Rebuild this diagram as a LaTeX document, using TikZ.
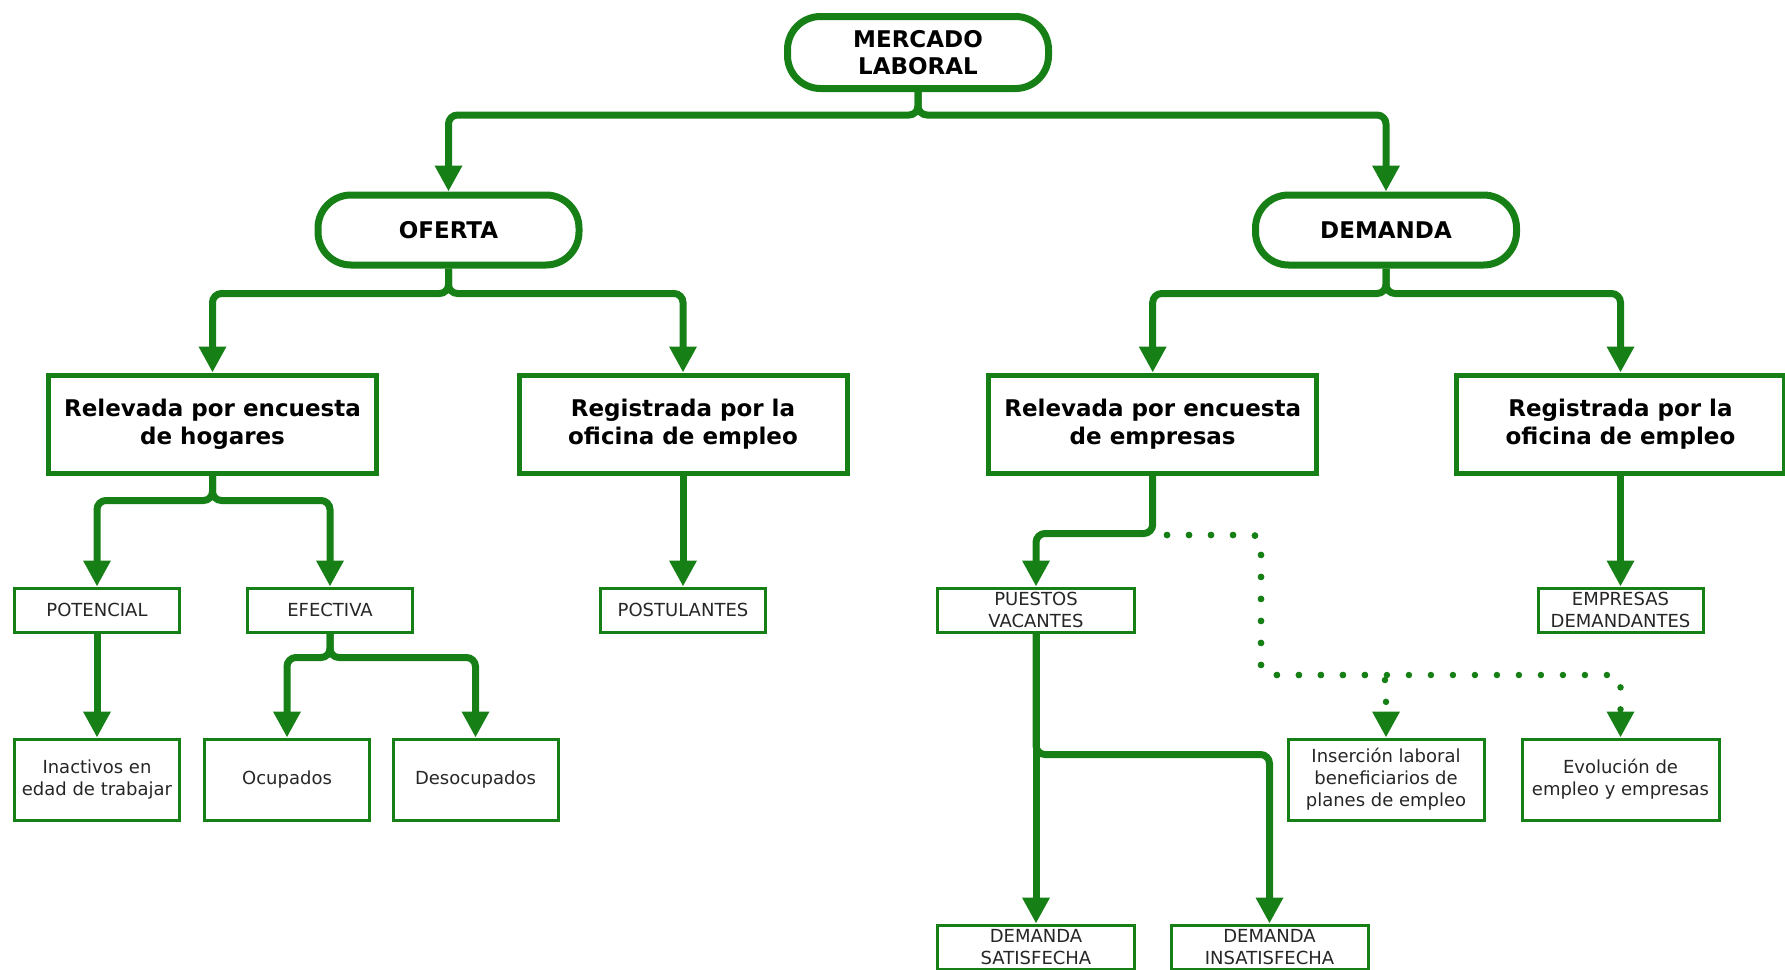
\documentclass[tikz,border=0pt]{standalone}
\usepackage{fontspec}
\setmainfont{DejaVu Sans}
\usetikzlibrary{arrows.meta}

\definecolor{verde}{RGB}{22,128,22}

\begin{document}
\begin{tikzpicture}[x=1pt, y=-1pt,
    pill/.style={draw=verde, line width=7pt, rounded corners=33pt, minimum width=261pt, minimum height=70pt,
      inner sep=0pt, align=center, font=\fontsize{23}{27.5}\selectfont\bfseries},
    bigbox/.style={draw=verde, line width=5pt, minimum width=328pt, minimum height=98pt,
      inner sep=0pt, align=center, font=\fontsize{23}{27.5}\selectfont\bfseries},
    smallbox/.style={draw=verde, line width=3pt, minimum width=165pt, minimum height=44pt,
      inner sep=0pt, align=center, text=black!85, font=\fontsize{18}{22}\selectfont},
    link/.style={verde, line width=7pt, rounded corners=9pt, -{Triangle[length=26pt, width=26pt]}},
    dotlink/.style={link, line width=6.5pt, line cap=round, dash pattern=on 0pt off 22pt}]

    \useasboundingbox (0,0) rectangle (1785,969);

    % Top and the two sides
    \node[pill, minimum height=72pt] (merc) at (918,52.5) {MERCADO\\LABORAL};
    \node[pill] (ofer) at (448.5,230) {OFERTA};
    \node[pill] (dem) at (1386,230) {DEMANDA};

    % Second level
    \node[bigbox] (hog) at (212.5,424) {Relevada por encuesta\\de hogares};
    \node[bigbox] (regA) at (683,424) {Registrada por la\\oficina de empleo};
    \node[bigbox] (relemp) at (1152.7,424) {Relevada por encuesta\\de empresas};
    \node[bigbox] (regB) at (1620.5,424) {Registrada por la\\oficina de empleo};

    % Third level
    \node[smallbox] (pot) at (97,610) {POTENCIAL};
    \node[smallbox] (efec) at (330,610) {EFECTIVA};
    \node[smallbox] (post) at (683,610) {POSTULANTES};
    \node[smallbox, minimum width=197pt] (puest) at (1036,610) {PUESTOS\\VACANTES};
    \node[smallbox] (empr) at (1620.5,610) {EMPRESAS\\DEMANDANTES};

    % Fourth level
    \node[smallbox, minimum height=81pt] (inact) at (97,779.5) {Inactivos en\\edad de trabajar};
    \node[smallbox, minimum height=81pt] (ocup) at (287,779.5) {Ocupados};
    \node[smallbox, minimum height=81pt] (desoc) at (475.5,779.5) {Desocupados};
    \node[smallbox, minimum height=81pt, minimum width=196pt] (inser) at (1386,779.5) {Inserción laboral\\beneficiarios de\\planes de empleo};
    \node[smallbox, minimum height=81pt, minimum width=197pt] (evol) at (1620.5,779.5) {Evolución de\\empleo y empresas};

    % Bottom boxes
    \node[smallbox, minimum width=197pt] (sat) at (1036,947) {DEMANDA\\SATISFECHA};
    \node[smallbox, minimum width=197pt] (insat) at (1269.5,947) {DEMANDA\\INSATISFECHA};

    % Arrows from the top
    \draw[link] (merc.south) -- ++(0,23) -| (ofer.north);
    \draw[link] (merc.south) -- ++(0,23) -| (dem.north);

    % Oferta and demanda
    \draw[link] (ofer.south) -- ++(0,25) -| (hog.north);
    \draw[link] (ofer.south) -- ++(0,25) -| (regA.north);
    \draw[link] (dem.south) -- ++(0,25) -| (relemp.north);
    \draw[link] (dem.south) -- ++(0,25) -| (regB.north);

    % Down to the small boxes
    \draw[link] (hog.south) -- ++(0,25) -| (pot.north);
    \draw[link] (hog.south) -- ++(0,25) -| (efec.north);
    \draw[link] (regA.south) -- (post.north);
    \draw[link] (relemp.south) -- ++(0,58) -| (puest.north);
    \draw[link] (regB.south) -- (empr.north);

    \draw[link] (pot.south) -- (inact.north);
    \draw[link] (efec.south) -- ++(0,24) -| (ocup.north);
    \draw[link] (efec.south) -- ++(0,24) -| (desoc.north);

    % Dotted branch
    \coordinate (dots) at (1167,535);
    \draw[dotlink] (dots) -| ++(94,140) -| (inser.north);
    \draw[dotlink] (dots) -| ++(94,140) -| (evol.north);

    % Puestos vacantes
    \draw[link] (puest.south) -- (sat.north);
    \draw[link] (puest.south) -- ++(0,121) -| (insat.north);

\end{tikzpicture}
\end{document}
